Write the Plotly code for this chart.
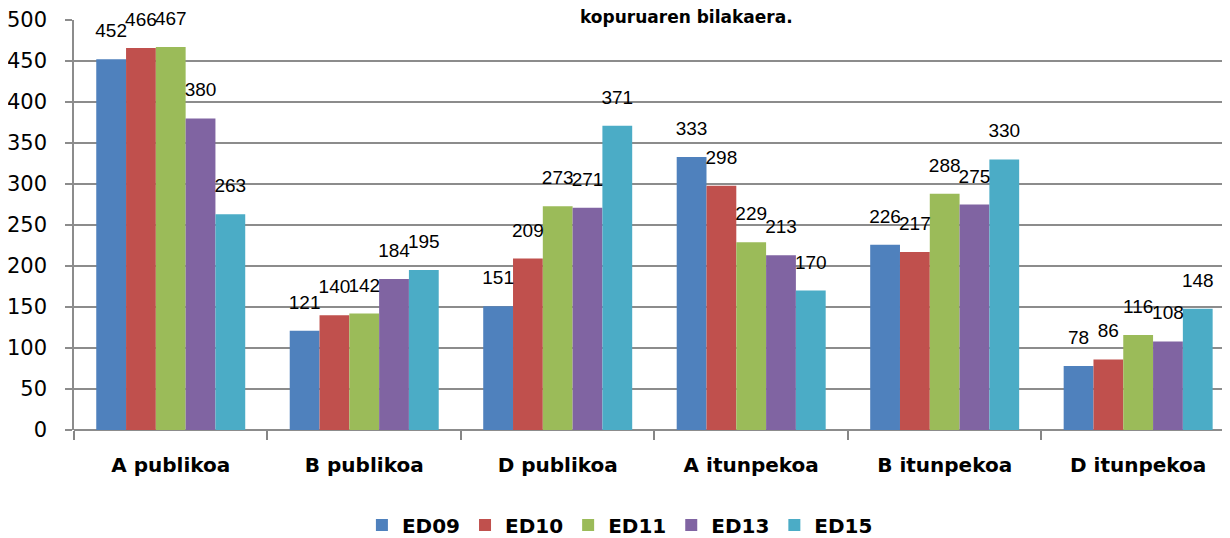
import plotly.graph_objects as go

categories = ["A publikoa", "B publikoa", "D publikoa", "A itunpekoa", "B itunpekoa", "D itunpekoa"]
series_names = ["ED09", "ED10", "ED11", "ED13", "ED15"]
ed09 = [452, 121, 151, 333, 226, 78]
ed10 = [466, 140, 209, 298, 217, 86]
ed11 = [467, 142, 273, 229, 288, 116]
ed13 = [380, 184, 271, 213, 275, 108]
ed15 = [263, 195, 371, 170, 330, 148]
series_values = [ed09, ed10, ed11, ed13, ed15]
colors = ["#4F81BD", "#C0504D", "#9BBB59", "#8064A2", "#4BACC6"]
y_ticks = [0, 50, 100, 150, 200, 250, 300, 350, 400, 450, 500]
title_text = "kopuruaren bilakaera."

fig = go.Figure()
for name, vals, col in zip(series_names, series_values, colors):
    fig.add_trace(go.Bar(
        x=categories, y=vals, name=name,
        marker=dict(color=col, line=dict(width=0)),
        offsetgroup=name,
    ))
for name, vals, col in zip(series_names, series_values, colors):
    fig.add_trace(go.Scatter(
        x=categories, y=vals, name=name + " labels",
        mode="markers+text", text=[str(v) for v in vals],
        textposition="top center",
        marker=dict(size=26, opacity=0, color=col),
        textfont=dict(family="Liberation Sans", size=19, color="#000000"),
        offsetgroup=name, showlegend=False, hoverinfo="skip",
        cliponaxis=False,
    ))

fig.update_layout(
    width=1230, height=538,
    paper_bgcolor="white", plot_bgcolor="white",
    margin=dict(l=66, r=0, t=12, b=116, autoexpand=False),
    barmode="group", bargap=0.23, bargroupgap=0,
    scattermode="group", scattergap=0.23,
    showlegend=True,
    legend=dict(
        orientation="h", x=0.469, xanchor="center", y=-0.232, yanchor="middle",
        font=dict(family="DejaVu Sans", size=20, color="#000000", weight="bold"),
        traceorder="normal", itemwidth=30,
    ),
    annotations=[dict(
        text="<b>" + title_text + "</b>", xref="paper", yref="paper",
        x=0.526, y=1, xanchor="center", yanchor="middle", yshift=3,
        showarrow=False, font=dict(family="DejaVu Sans", size=17, color="#000000"),
    )],
)
fig.update_xaxes(
    range=[-0.5, 5.516], type="category", automargin=False,
    showgrid=False, showline=False, zeroline=False,
    ticks="outside", tickson="boundaries", ticklen=9, tickcolor="#868686", tickwidth=1.5,
    tickfont=dict(family="DejaVu Sans", size=20, color="#000000", weight="bold"),
    ticklabelstandoff=21,
)
fig.update_yaxes(
    range=[0, 500], tickvals=y_ticks, automargin=False,
    showgrid=True, gridcolor="#8c8c8c", gridwidth=1.5,
    showline=True, linecolor="#8c8c8c", linewidth=1.5,
    zeroline=True, zerolinecolor="#8c8c8c", zerolinewidth=1.5,
    ticks="outside", ticklen=7, tickcolor="#8c8c8c", tickwidth=1.5,
    tickfont=dict(family="DejaVu Sans", size=21, color="#000000"),
    ticklabelstandoff=14,
)

fig.write_html("out.html")
